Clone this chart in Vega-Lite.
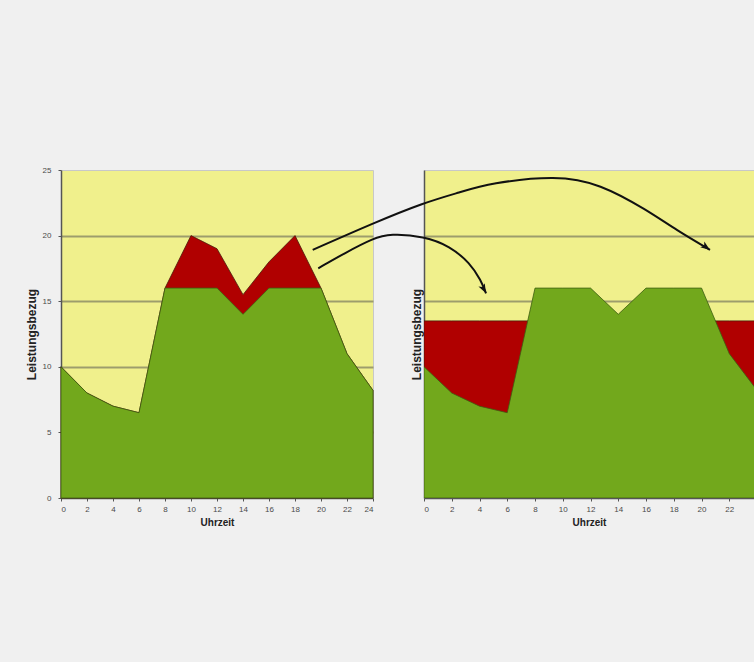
{
  "$schema": "https://vega.github.io/schema/vega-lite/v6.json",
  "background": "#f0f0f0",
  "padding": {"left": 24, "top": 165, "right": 0, "bottom": 134},
  "bounds": "flush",
  "spacing": 51,
  "config": {
    "font": "Liberation Sans",
    "view": {"fill": "#f0f08c", "stroke": "#c8c8c8", "strokeWidth": 1},
    "axis": {
      "labelFont": "Liberation Sans",
      "labelFontSize": 8,
      "labelColor": "#4a4a4a",
      "labelOverlap": false,
      "titleFont": "Liberation Sans",
      "titleFontWeight": "bold",
      "titleColor": "#222222",
      "domainColor": "#555555",
      "domainWidth": 1.5,
      "tickColor": "#555555",
      "tickSize": 3,
      "gridColor": {"condition": {"test": "datum.value === 25 || datum.value === 0", "value": "transparent"}, "value": "#9d9d6c"},
      "gridWidth": 2
    }
  },
  "datasets": {
    "load": [
      {"h": 0, "total": 10, "base": 10, "floor": 13.5},
      {"h": 2, "total": 8, "base": 8, "floor": 13.5},
      {"h": 4, "total": 7, "base": 7, "floor": 13.5},
      {"h": 6, "total": 6.5, "base": 6.5, "floor": 13.5},
      {"h": 8, "total": 16, "base": 16, "floor": 13.5},
      {"h": 10, "total": 20, "base": 16, "floor": 13.5},
      {"h": 12, "total": 19, "base": 16, "floor": 13.5},
      {"h": 14, "total": 15.5, "base": 14, "floor": 13.5},
      {"h": 16, "total": 18, "base": 16, "floor": 13.5},
      {"h": 18, "total": 20, "base": 16, "floor": 13.5},
      {"h": 20, "total": 16, "base": 16, "floor": 13.5},
      {"h": 22, "total": 11, "base": 11, "floor": 13.5},
      {"h": 24, "total": 8.2, "base": 8.2, "floor": 13.5}
    ],
    "arrows": [
      {"arrow": "A", "i": 0, "ax": -8.02, "ay": 18.91},
      {"arrow": "A", "i": 1, "ax": -3.65, "ay": 20.95},
      {"arrow": "A", "i": 2, "ax": 0.02, "ay": 22.52},
      {"arrow": "A", "i": 3, "ax": 2.59, "ay": 23.3},
      {"arrow": "A", "i": 4, "ax": 4.76, "ay": 24.0},
      {"arrow": "A", "i": 5, "ax": 9.56, "ay": 24.6},
      {"arrow": "A", "i": 6, "ax": 12.68, "ay": 23.95},
      {"arrow": "A", "i": 7, "ax": 16.05, "ay": 21.96},
      {"arrow": "A", "i": 8, "ax": 18.21, "ay": 20.4},
      {"arrow": "A", "i": 9, "ax": 20.61, "ay": 18.91},
      {"arrow": "B", "i": 0, "ax": -7.62, "ay": 17.51},
      {"arrow": "B", "i": 1, "ax": -5.69, "ay": 18.68},
      {"arrow": "B", "i": 2, "ax": -3.65, "ay": 19.8},
      {"arrow": "B", "i": 3, "ax": -2.45, "ay": 20.15},
      {"arrow": "B", "i": 4, "ax": 0.02, "ay": 19.95},
      {"arrow": "B", "i": 5, "ax": 1.87, "ay": 19.2},
      {"arrow": "B", "i": 6, "ax": 3.32, "ay": 17.9},
      {"arrow": "B", "i": 7, "ax": 4.1, "ay": 16.6},
      {"arrow": "B", "i": 8, "ax": 4.47, "ay": 15.6}
    ],
    "heads": [
      {"arrow": "A", "ax": 20.61, "ay": 18.91},
      {"arrow": "B", "ax": 4.47, "ay": 15.6}
    ]
  },
  "hconcat": [
    {
      "width": 312,
      "height": 328,
      "data": {"name": "load"},
      "encoding": {
        "x": {"field": "h", "type": "quantitative", "scale": {"domain": [0, 24], "nice": false},
          "axis": {"title": "Uhrzeit", "titleFontSize": 10, "titlePadding": 4, "labelPadding": 4, "labelOverlap": false, "tickCount": 13, "values": [0,2,4,6,8,10,12,14,16,18,20,22,24], "grid": false}}
      },
      "layer": [
        {
          "mark": {"type": "area", "color": "#b00000", "stroke": "#4a1a0a", "strokeWidth": 0.8},
          "encoding": {
            "y": {"field": "total", "type": "quantitative", "scale": {"domain": [0, 25], "nice": false},
              "axis": {"title": "Leistungsbezug", "titleFontSize": 12, "titlePadding": 4, "labelPadding": 7, "tickSize": 3, "values": [0,5,10,15,20,25]}}
          }
        },
        {
          "mark": {"type": "area", "color": "#72a81c", "stroke": "#3d5e12", "strokeWidth": 0.8},
          "encoding": {
            "y": {"field": "base", "type": "quantitative"}
          }
        }
      ]
    },
    {
      "width": 330,
      "height": 328,
      "encoding": {
        "x": {"field": "h", "type": "quantitative", "scale": {"domain": [0, 23.78], "nice": false},
          "axis": {"title": "Uhrzeit", "titleFontSize": 10, "titlePadding": 4, "labelPadding": 4, "labelOverlap": false, "tickCount": 12, "values": [0,2,4,6,8,10,12,14,16,18,20,22], "grid": false}}
      },
      "layer": [
        {
          "data": {"name": "load"},
          "mark": {"type": "area", "color": "#b00000", "stroke": "#4a1a0a", "strokeWidth": 0.8, "clip": true},
          "encoding": {
            "y": {"field": "floor", "type": "quantitative", "scale": {"domain": [0, 25], "nice": false},
              "axis": {"title": "Leistungsbezug", "titleFontSize": 12, "titlePadding": 1, "labels": false, "ticks": false, "values": [0,5,10,15,20,25]}}
          }
        },
        {
          "data": {"name": "load"},
          "mark": {"type": "area", "color": "#72a81c", "stroke": "#3d5e12", "strokeWidth": 0.8, "clip": true},
          "encoding": {
            "y": {"field": "base", "type": "quantitative"}
          }
        },
        {
          "data": {"name": "arrows"},
          "mark": {"type": "line", "color": "#111111", "strokeWidth": 2, "interpolate": "basis", "clip": false},
          "encoding": {
            "x": {"field": "ax", "type": "quantitative"},
            "y": {"field": "ay", "type": "quantitative"},
            "detail": {"field": "arrow"},
            "order": {"field": "i"}
          }
        },
        {
          "data": {"name": "heads"},
          "transform": [{"filter": "datum.arrow === 'A'"}],
          "mark": {"type": "point", "filled": true, "color": "#111111", "opacity": 1, "size": 90, "angle": 125, "shape": "M0,0L0.75,2L0,1.5L-0.75,2Z", "clip": false},
          "encoding": {
            "x": {"field": "ax", "type": "quantitative"},
            "y": {"field": "ay", "type": "quantitative"}
          }
        },
        {
          "data": {"name": "heads"},
          "transform": [{"filter": "datum.arrow === 'B'"}],
          "mark": {"type": "point", "filled": true, "color": "#111111", "opacity": 1, "size": 90, "angle": 152, "shape": "M0,0L0.75,2L0,1.5L-0.75,2Z", "clip": false},
          "encoding": {
            "x": {"field": "ax", "type": "quantitative"},
            "y": {"field": "ay", "type": "quantitative"}
          }
        }
      ]
    }
  ]
}
